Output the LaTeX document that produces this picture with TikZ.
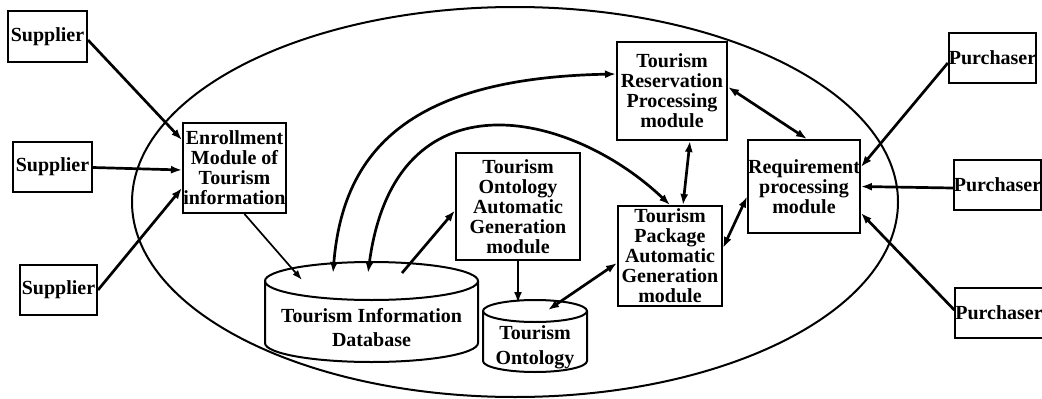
\documentclass[tikz,border=0pt]{standalone}
\usepackage{fontspec}
\setmainfont{Liberation Serif}
\usetikzlibrary{arrows.meta}
\begin{document}
\begin{tikzpicture}[x=1pt,y=-1pt,
  box/.style={draw, line width=2pt, inner sep=0pt, align=center,
    font=\fontsize{20}{20}\selectfont\bfseries},
  lbl/.style={inner sep=0pt, align=center, font=\fontsize{20}{24}\selectfont\bfseries},
  outline/.style={line width=2pt},
  conn/.style={line width=2.7pt, -{Latex[length=11pt,width=8pt]}},
  thinconn/.style={line width=1.7pt, -{Latex[length=10pt,width=7pt]}},
  biconn/.style={line width=2.7pt, {Latex[length=11pt,width=8pt]}-{Latex[length=11pt,width=8pt]}}
]
\useasboundingbox (0,0) rectangle (1042,399);

% big ellipse
\draw[outline] (515,202) ellipse [x radius=383pt, y radius=195pt];

% boxes
\node[box, minimum width=79pt, minimum height=51pt] (sup1) at (47.5,36.5) {Supplier};
\node[box, minimum width=79pt, minimum height=50pt] (sup2) at (52.5,167) {Supplier};
\node[box, minimum width=77pt, minimum height=50pt] (sup3) at (58.5,290) {Supplier};
\node[box, minimum width=103pt, minimum height=90pt] (enr) at (234.5,168)
  {Enrollment\\Module of\\Tourism\\information};
\node[box, minimum width=110pt, minimum height=98pt] (res) at (672,91)
  {Tourism\\Reservation\\Processing\\module};
\node[box, minimum width=110pt, minimum height=93pt] (req) at (804,186.5)
  {Requirement\\processing\\module};
\node[box, minimum width=124pt, minimum height=107pt] (oag) at (518,206.5)
  {Tourism\\Ontology\\Automatic\\Generation\\module};
\node[box, minimum width=104pt, minimum height=100pt] (pkg) at (670,256)
  {Tourism\\Package\\Automatic\\Generation\\module};
\node[box, minimum width=85pt, minimum height=50pt] (pur1) at (992.5,58) {Purchaser};
\node[box, minimum width=85pt, minimum height=50pt] (pur2) at (997.5,185) {Purchaser};
\node[box, minimum width=82pt, minimum height=50pt] (pur3) at (999,313) {Purchaser};

% database cylinder
\draw[outline, fill=white] (265,281) -- (265,343) arc (180:360:106.5pt and 19pt) -- (478,281);
\draw[outline] (371.5,281) ellipse [x radius=106.5pt, y radius=19pt];
\node[lbl] (db) at (371.5,328) {Tourism Information\\Database};

% ontology cylinder
\draw[outline, fill=white] (483,311) -- (483,361) arc (180:360:52pt and 11pt) -- (587,311);
\draw[outline] (535,311) ellipse [x radius=52pt, y radius=11pt];
\node[lbl, font=\fontsize{20}{25}\selectfont\bfseries] (ont) at (535,347.5) {Tourism\\Ontology};

% connector ends on the cylinders
\coordinate (db1) at (302,280);
\coordinate (db2) at (333,273);
\coordinate (db3) at (368,273);
\coordinate (db4) at (402,273);
\coordinate (ontTop) at (518,303);
\coordinate (ontA) at (548,310);

% suppliers to enrollment
\draw[conn] ([yshift=-3.5pt]sup1.east) -- ([yshift=-18pt]enr.north west);
\draw[conn] ([yshift=-0.5pt]sup2.east) -- ([yshift=-2pt]enr.west);
\draw[conn] (sup3.east) -- ([yshift=-20pt]enr.west);

% enrollment to database
\draw[thinconn] ([xshift=10pt]enr.south) -- (db1);

% database curves
\draw[biconn] (db2) .. controls (343,150) and (410,78) .. ([yshift=17pt]res.west);
\draw[biconn] (db3) .. controls (395,70) and (570,110) .. (pkg.north);
\draw[conn] (db4) -- ([yshift=-4pt]oag.west);

% ontology generation
\draw[conn] (oag.south) -- (ontTop);
\draw[biconn] (ontA) -- ([yshift=-7pt]pkg.west);

% reservation / package / requirement
\draw[biconn] ([xshift=18pt]res.south) -- ([xshift=13pt]pkg.north);
\draw[biconn] ([yshift=4pt]res.east) -- ([xshift=3pt]req.north);
\draw[biconn] ([yshift=-10pt]req.west) -- ([yshift=8pt]pkg.east);

% purchasers to requirement
\draw[conn] ([yshift=-5pt]pur1.west) -- ([yshift=19.5pt]req.east);
\draw[conn] ([yshift=-3pt]pur2.west) -- (req.east);
\draw[conn] ([yshift=3pt]pur3.west) -- ([yshift=-26.5pt]req.east);
\end{tikzpicture}
\end{document}
